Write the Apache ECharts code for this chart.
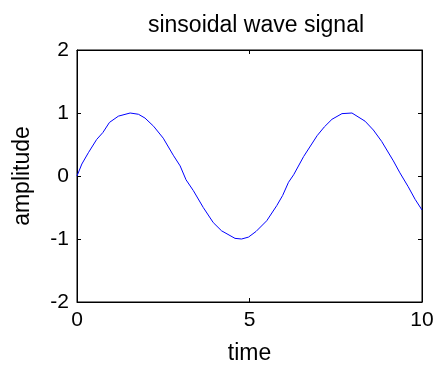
<!DOCTYPE html>
<html><head><meta charset="utf-8">
<script src="https://cdn.jsdelivr.net/npm/echarts@6/dist/echarts.min.js"></script>
<style>html,body{margin:0;padding:0;background:#fff}#c{width:440px;height:370px}</style>
</head><body><div id="c"></div>
<script>
var titleText = "sinsoidal wave signal";
var xName = "time";
var yName = "amplitude";
var xTicks = [0, 5, 10];
var yTicks = [-2, -1, 0, 1, 2];
var timeValues = [0, 0.14, 0.33, 0.57, 0.75, 0.94, 1.2, 1.54, 1.78, 1.97, 2.22, 2.5, 2.79, 2.99, 3.16, 3.37, 3.66, 3.95, 4.19, 4.58, 4.77, 4.97, 5.19, 5.5, 5.79, 5.96, 6.13, 6.28, 6.57, 6.96, 7.17, 7.39, 7.68, 7.97, 8.35, 8.59, 8.83, 9.17, 9.36, 9.6, 9.8, 10];
var ampValues = [0, 0.19, 0.37, 0.58, 0.69, 0.85, 0.95, 1.0, 0.98, 0.92, 0.79, 0.6, 0.33, 0.16, -0.06, -0.23, -0.5, -0.74, -0.87, -0.99, -1.0, -0.97, -0.88, -0.71, -0.47, -0.31, -0.1, 0.02, 0.31, 0.64, 0.78, 0.9, 0.99, 1.0, 0.87, 0.73, 0.55, 0.24, 0.05, -0.17, -0.37, -0.54];

var pts = timeValues.map(function(t, i){ return [t, ampValues[i]]; });
var font = "Liberation Sans, Arial, sans-serif";
var chart = echarts.init(document.getElementById('c'));
function axisLine(){ return {show: true, onZero: false, lineStyle: {color: '#000', width: 1}}; }
function tick(){ return {show: true, inside: true, length: 4, lineStyle: {color: '#000'}}; }
chart.setOption({
  animation: false,
  title: {text: titleText, left: 251, top: 9, textAlign: 'center',
    textStyle: {fontFamily: font, fontSize: 23, fontWeight: 'normal', color: '#000'}},
  grid: {left: 77, right: 18, top: 50, bottom: 66, show: true, borderColor: '#000', borderWidth: 1, backgroundColor: 'transparent'},
  xAxis: [{
    type: 'value', min: xTicks[0], max: xTicks[xTicks.length-1], interval: 5,
    name: xName, nameLocation: 'middle', nameGap: 40,
    nameTextStyle: {fontFamily: font, fontSize: 23, color: '#000'},
    axisLine: axisLine(), axisTick: tick(), splitLine: {show: false},
    axisLabel: {fontFamily: font, fontSize: 21, color: '#000', margin: 8}
  }, {
    type: 'value', position: 'top', min: xTicks[0], max: xTicks[xTicks.length-1], interval: 5,
    axisLine: axisLine(), axisTick: tick(), splitLine: {show: false}, axisLabel: {show: false}
  }],
  yAxis: [{
    type: 'value', min: yTicks[0], max: yTicks[yTicks.length-1], interval: 1,
    name: yName, nameLocation: 'middle', nameGap: 43,
    nameTextStyle: {fontFamily: font, fontSize: 23, color: '#000'},
    axisLine: axisLine(), axisTick: tick(), splitLine: {show: false},
    axisLabel: {fontFamily: font, fontSize: 21, color: '#000', margin: 8}
  }, {
    type: 'value', position: 'right', min: yTicks[0], max: yTicks[yTicks.length-1], interval: 1,
    axisLine: axisLine(), axisTick: tick(), splitLine: {show: false}, axisLabel: {show: false}
  }],
  series: [{
    type: 'line', data: pts, showSymbol: false, symbol: 'none',
    lineStyle: {color: '#0000ff', width: 1}, xAxisIndex: 0, yAxisIndex: 0
  }, {
    type: 'line', data: [], showSymbol: false, xAxisIndex: 1, yAxisIndex: 1, silent: true
  }]
});
</script></body></html>
